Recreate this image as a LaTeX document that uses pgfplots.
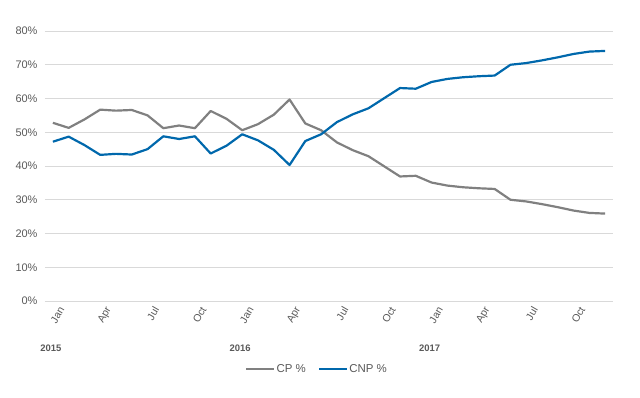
\documentclass[border=0pt]{standalone}
\usepackage{pgfplots}
\pgfplotsset{compat=1.18}
\usepackage{fontspec}
\setmainfont{Liberation Sans}
\definecolor{cpgray}{RGB}{128,128,128}
\definecolor{cnpblue}{RGB}{0,104,172}
\definecolor{txtgray}{RGB}{89,89,89}
\definecolor{gridgray}{RGB}{217,217,217}
\begin{document}
\begin{tikzpicture}[x=1bp,y=1bp]
\path[use as bounding box] (-45,-96) rectangle (595,301);
\begin{axis}[
  at={(0,0)}, anchor=south west,
  scale only axis, width=568bp, height=270bp,
  xmin=-0.5, xmax=35.5, ymin=0, ymax=80,
  axis line style={draw=none},
  ymajorgrids, grid style={gridgray, line width=0.8pt},
  ytick={0,10,...,80},
  yticklabel={\pgfmathprintnumber{\tick}\%},
  xtick={0,3,...,33},
  xticklabels={Jan,Apr,Jul,Oct,Jan,Apr,Jul,Oct,Jan,Apr,Jul,Oct},
  x tick label style={rotate=60, anchor=east, font=\fontsize{10.5}{12}\selectfont, text=txtgray, yshift=-11bp, xshift=2bp},
  y tick label style={font=\fontsize{11}{13}\selectfont, text=txtgray, xshift=-4bp},
  /pgf/number format/assume math mode=true,
  major tick length=0pt,
  clip=false,
  legend columns=2,
  legend style={at={(axis description cs:0.478,0)}, anchor=center, yshift=-68bp, draw=none, fill=none,
    font=\fontsize{11.5}{13}\selectfont, text=txtgray,
    nodes={inner xsep=1bp},
    /tikz/every even column/.append style={column sep=11bp}},
  legend image code/.code={\draw[#1, line width=2.4pt] (0,0) -- (28bp,0);},
]
\addplot[cpgray, line width=2.2pt, line join=round, mark=none] coordinates {
(0,52.8) (1,51.3) (2,53.8) (3,56.7) (4,56.4) (5,56.6) (6,55.0) (7,51.2) (8,52.0) (9,51.2)
(10,56.3) (11,54.0) (12,50.6) (13,52.4) (14,55.2) (15,59.7) (16,52.6) (17,50.6) (18,47.0) (19,44.7)
(20,42.9) (21,39.9) (22,36.9) (23,37.1) (24,35.1) (25,34.2) (26,33.7) (27,33.4) (28,33.2) (29,30.0)
(30,29.5) (31,28.7) (32,27.8) (33,26.8) (34,26.1) (35,25.9)};
\addlegendentry{CP \%}
\addplot[cnpblue, line width=2.2pt, line join=round, mark=none] coordinates {
(0,47.2) (1,48.7) (2,46.2) (3,43.3) (4,43.6) (5,43.4) (6,45.0) (7,48.8) (8,48.0) (9,48.8)
(10,43.7) (11,46.0) (12,49.4) (13,47.6) (14,44.8) (15,40.3) (16,47.4) (17,49.4) (18,53.0) (19,55.3)
(20,57.1) (21,60.1) (22,63.1) (23,62.9) (24,64.9) (25,65.8) (26,66.3) (27,66.6) (28,66.8) (29,70.0)
(30,70.5) (31,71.3) (32,72.2) (33,73.2) (34,73.9) (35,74.1)};
\addlegendentry{CNP \%}
\node[font=\bfseries\fontsize{9.5}{10}\selectfont, text=txtgray] at (axis cs:0,0) [yshift=-47bp, xshift=-2bp] {2015};
\node[font=\bfseries\fontsize{9.5}{10}\selectfont, text=txtgray] at (axis cs:12,0) [yshift=-47bp, xshift=-2bp] {2016};
\node[font=\bfseries\fontsize{9.5}{10}\selectfont, text=txtgray] at (axis cs:24,0) [yshift=-47bp, xshift=-2bp] {2017};
\end{axis}
\end{tikzpicture}
\end{document}
